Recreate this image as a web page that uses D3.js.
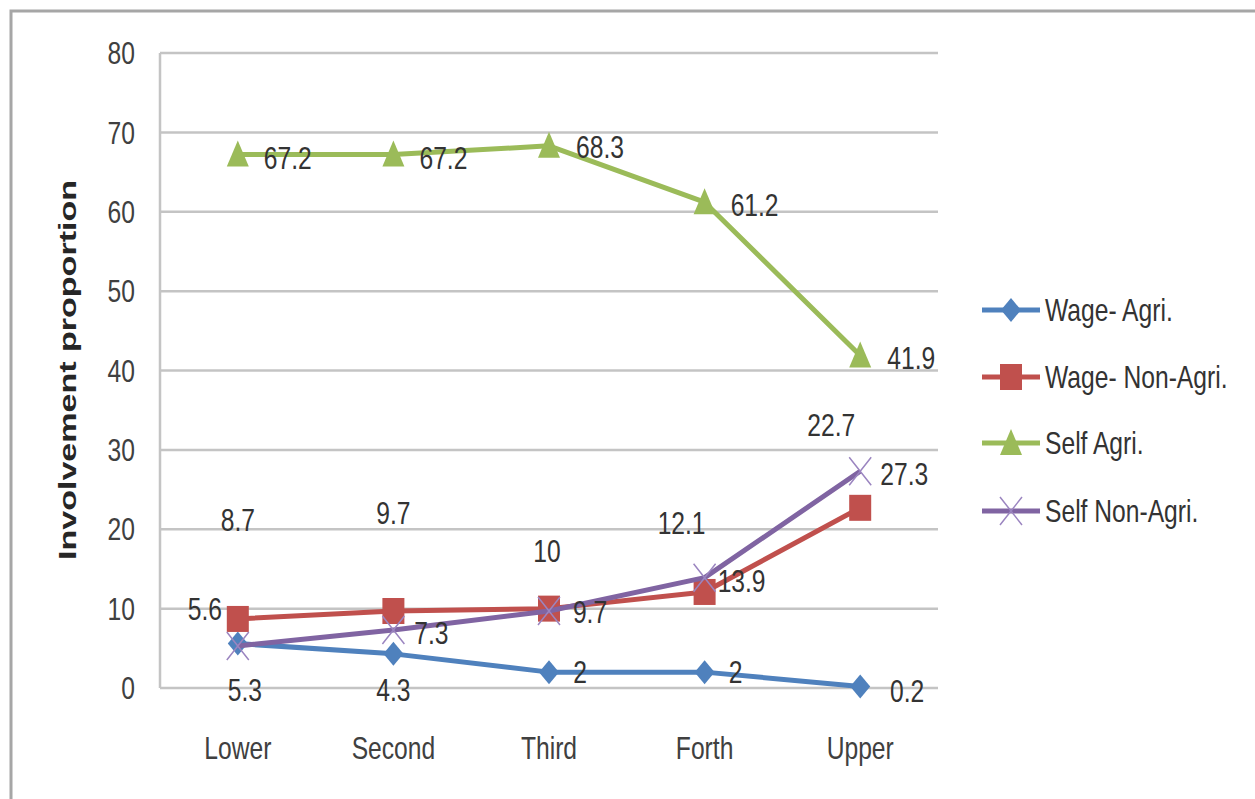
<!DOCTYPE html>
<html>
<head>
<meta charset="utf-8">
<script src="https://cdn.jsdelivr.net/npm/d3@7"></script>
<style>
  body { margin: 0; background: #fff; }
  text { font-family: "Liberation Sans", Arial, sans-serif; }
</style>
</head>
<body>
<script>
width = 1255;
height = 799;

const categories = ['Lower', 'Second', 'Third', 'Forth', 'Upper'];
const seriesNames = ['Wage- Agri.', 'Wage- Non-Agri.', 'Self Agri.', 'Self Non-Agri.'];
const wageAgri = [5.6, 4.3, 2, 2, 0.2];
const wageNonAgri = [8.7, 9.7, 10, 12.1, 22.7];
const selfAgri = [67.2, 67.2, 68.3, 61.2, 41.9];
const selfNonAgri = [5.3, 7.3, 9.7, 13.9, 27.3];
const yTicks = [0, 10, 20, 30, 40, 50, 60, 70, 80];

const colors = ['#4F81BD', '#C0504D', '#9BBB59', '#8064A2'];
const markers = ['diamond', 'square', 'triangle', 'cross'];

// where each data label sits relative to its point (label centre)
const labelOffsets = [
  [[-33, -35], [0, 36], [31, 0], [31, 0], [47, 4]],
  [[0, -99], [0, -98], [-2, -58], [-23, -69], [-29, -83]],
  [[50, 3], [50, 3], [51, 1], [50, 3], [51, 2]],
  [[7, 44], [38, 3], [41, 1], [37, 3], [44, 2]]
];

const margin = { left: 160, right: 317, top: 53, bottom: 111 };
const squeeze = 0.77; // text in the original is a condensed face

function narrowText(g, px, py, str, anchor, fill) {
  return g.append('text')
    .attr('transform', `translate(${px},${py}) scale(${squeeze},1)`)
    .attr('dy', '0.35em')
    .attr('text-anchor', anchor)
    .attr('font-size', 32)
    .attr('fill', fill)
    .text(str);
}

function main() {
  const svg = d3.select('body').append('svg').attr('width', width).attr('height', height);

  const x = d3.scaleBand().domain(categories).range([margin.left, width - margin.right]);
  const y = d3.scaleLinear().domain([0, 80]).range([height - margin.bottom, margin.top]);

  // frame
  svg.append('path')
    .attr('d', `M11,${height} L11,11 L${width},11`)
    .attr('fill', 'none')
    .attr('stroke', '#a6a6a6')
    .attr('stroke-width', 3);

  // grid
  svg.append('g')
    .selectAll('line')
    .data(yTicks)
    .enter()
    .append('line')
    .attr('x1', margin.left)
    .attr('x2', width - margin.right)
    .attr('y1', d => y(d))
    .attr('y2', d => y(d))
    .attr('stroke', '#c4c4c4')
    .attr('stroke-width', 2.5);

  svg.append('line')
    .attr('x1', margin.left).attr('x2', margin.left)
    .attr('y1', y(80)).attr('y2', y(0))
    .attr('stroke', '#c4c4c4').attr('stroke-width', 2.5);

  // y tick labels
  const yLabels = svg.append('g');
  yTicks.forEach(t => narrowText(yLabels, 135, y(t), t, 'end', '#404040'));

  // x labels
  const xLabels = svg.append('g');
  categories.forEach(c => narrowText(xLabels, x(c) + x.bandwidth() / 2, 748, c, 'middle', '#404040'));

  // y title
  svg.append('text')
    .attr('transform', 'translate(76,370) rotate(-90)')
    .attr('text-anchor', 'middle')
    .attr('font-size', 24)
    .attr('font-weight', 'bold')
    .attr('textLength', 380)
    .attr('lengthAdjust', 'spacingAndGlyphs')
    .attr('fill', '#262626')
    .text('Involvement proportion');

  const allSeries = [wageAgri, wageNonAgri, selfAgri, selfNonAgri];
  const cx = i => x(categories[i]) + x.bandwidth() / 2;

  const line = d3.line()
    .x((d, i) => cx(i))
    .y(d => y(d));

  allSeries.forEach((values, s) => {
    const g = svg.append('g');
    g.append('path')
      .attr('d', line(values))
      .attr('fill', 'none')
      .attr('stroke', colors[s])
      .attr('stroke-width', 5)
      .attr('stroke-linejoin', 'round');
    values.forEach((v, i) => drawMarker(g, markers[s], cx(i), y(v), colors[s]));
  });

  // data labels
  allSeries.forEach((values, s) => {
    const g = svg.append('g');
    values.forEach((v, i) => {
      narrowText(g, cx(i) + labelOffsets[s][i][0], y(v) + labelOffsets[s][i][1], v, 'middle', '#333');
    });
  });

  // legend
  const legendY = [310, 377, 443, 511];
  const legend = svg.append('g');
  seriesNames.forEach((name, s) => {
    legend.append('line')
      .attr('x1', 982).attr('x2', 1040)
      .attr('y1', legendY[s]).attr('y2', legendY[s])
      .attr('stroke', colors[s]).attr('stroke-width', 5);
    drawMarker(legend, markers[s], 1011, legendY[s], colors[s]);
    narrowText(legend, 1045, legendY[s], name, 'start', '#333');
  });
}

function drawMarker(g, type, px, py, color) {
  if (type === 'diamond') {
    g.append('path')
      .attr('d', `M${px},${py - 12} L${px + 10},${py} L${px},${py + 12} L${px - 10},${py} Z`)
      .attr('fill', color);
  } else if (type === 'square') {
    g.append('rect')
      .attr('x', px - 11).attr('y', py - 13)
      .attr('width', 22).attr('height', 26)
      .attr('fill', color);
  } else if (type === 'triangle') {
    g.append('path')
      .attr('d', `M${px},${py - 14} L${px + 11},${py + 12} L${px - 11},${py + 12} Z`)
      .attr('fill', color);
  } else {
    g.append('path')
      .attr('d', `M${px - 11},${py - 14} L${px + 11},${py + 14} M${px + 11},${py - 14} L${px - 11},${py + 14}`)
      .attr('stroke', '#9b85c0')
      .attr('stroke-width', 1.5)
      .attr('fill', 'none');
  }
}

main();
</script>
</body>
</html>
